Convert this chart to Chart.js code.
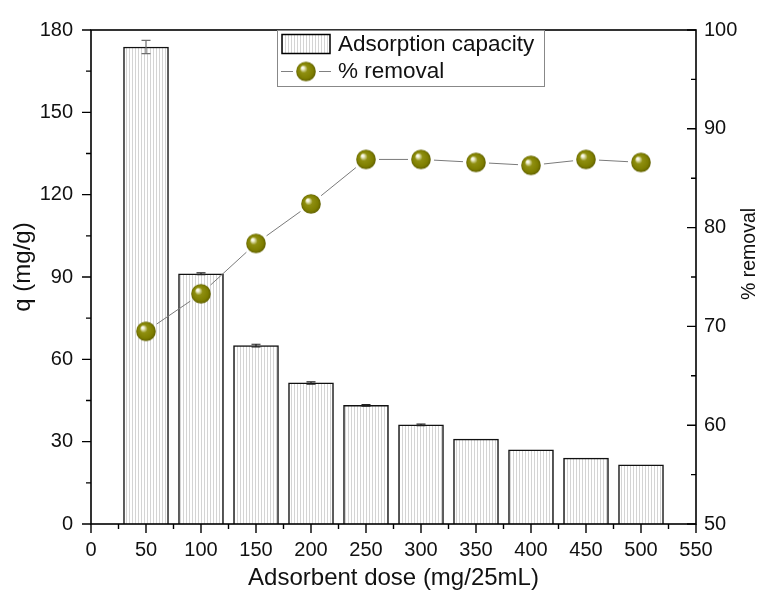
<!DOCTYPE html>
<html><head><meta charset="utf-8">
<script src="https://cdn.jsdelivr.net/npm/chart.js@4.4.1/dist/chart.umd.min.js"></script>
<style>html,body{margin:0;padding:0;background:#fff;overflow:hidden}</style>
</head><body>
<canvas id="c" width="773" height="595"></canvas>
<script>
const doses = [50, 100, 150, 200, 250, 300, 350, 400, 450, 500];
const qValues = [173.8, 91.2, 65.0, 51.4, 43.2, 36.1, 30.9, 27.0, 24.0, 21.6];
const qErrors = [2.4, 0.3, 0.5, 0.4, 0.3, 0.3, 0, 0, 0, 0];
const removal = [69.5, 73.3, 78.4, 82.4, 86.9, 86.9, 86.6, 86.3, 86.9, 86.6];
const xTicks = [0, 50, 100, 150, 200, 250, 300, 350, 400, 450, 500, 550];
const qTicks = [0, 30, 60, 90, 120, 150, 180];
const removalTicks = [50, 60, 70, 80, 90, 100];

const FONT = '"Liberation Sans", Arial, sans-serif';

function makeHatch() {
  const c = document.createElement('canvas');
  c.width = 3; c.height = 8;
  const g = c.getContext('2d');
  g.fillStyle = '#ffffff'; g.fillRect(0, 0, 3, 8);
  g.fillStyle = '#d4d4d4'; g.fillRect(0, 0, 1, 8);
  return g.createPattern(c, 'repeat');
}
function makeSphere(r) {
  const s = Math.ceil(r * 2 + 2);
  const c = document.createElement('canvas');
  c.width = s; c.height = s;
  const g = c.getContext('2d');
  const cx = s / 2, cy = s / 2;
  const grd = g.createRadialGradient(cx - r * 0.38, cy - r * 0.42, 0, cx, cy, r);
  grd.addColorStop(0, '#ffffff');
  grd.addColorStop(0.14, '#f2f2d6');
  grd.addColorStop(0.4, '#8f8f10');
  grd.addColorStop(0.8, '#7e7e00');
  grd.addColorStop(1, '#606000');
  g.fillStyle = grd;
  g.beginPath(); g.arc(cx, cy, r, 0, Math.PI * 2); g.fill();
  return c;
}
const hatch = makeHatch();
const sphere = makeSphere(9.8);

function setTicks(arr) {
  return function (scale) { scale.ticks = arr.map(v => ({ value: v })); };
}

function vText(ctx, text, cx, cy, size) {
  ctx.save();
  ctx.translate(cx, cy);
  ctx.rotate(-Math.PI / 2);
  ctx.fillStyle = '#111';
  ctx.font = size + 'px ' + FONT;
  ctx.textAlign = 'center';
  ctx.textBaseline = 'middle';
  ctx.fillText(text, 0, 0);
  ctx.restore();
}

const decor = {
  id: 'decor',
  beforeDatasetDraw(chart, args) {
    if (args.index !== 1) return;
    const pts = args.meta.data;
    const ctx = chart.ctx;
    ctx.save();
    ctx.strokeStyle = '#7a7a7a';
    ctx.lineWidth = 1;
    ctx.beginPath();
    const gap = 13;
    for (let i = 0; i < pts.length - 1; i++) {
      const a = pts[i], b = pts[i + 1];
      const dx = b.x - a.x, dy = b.y - a.y;
      const len = Math.hypot(dx, dy);
      if (len <= gap * 2) continue;
      const ux = dx / len, uy = dy / len;
      ctx.moveTo(a.x + ux * gap, a.y + uy * gap);
      ctx.lineTo(b.x - ux * gap, b.y - uy * gap);
    }
    ctx.stroke();
    ctx.restore();
  },
  afterDatasetsDraw(chart) {
    const ctx = chart.ctx;
    const x = chart.scales.x, y = chart.scales.y;
    ctx.save();
    doses.forEach((d, i) => {
      const e = qErrors[i];
      if (!e) return;
      const px = x.getPixelForValue(d);
      const top = y.getPixelForValue(qValues[i] + e);
      const bot = y.getPixelForValue(qValues[i] - e);
      ctx.strokeStyle = i === 0 ? '#6e6e6e' : '#222';
      ctx.lineWidth = 1.2;
      ctx.beginPath();
      ctx.moveTo(px, top); ctx.lineTo(px, bot);
      ctx.moveTo(px - 4.5, top); ctx.lineTo(px + 4.5, top);
      ctx.moveTo(px - 4.5, bot); ctx.lineTo(px + 4.5, bot);
      ctx.stroke();
    });
    ctx.restore();
  },
  afterDraw(chart) {
    const ctx = chart.ctx;
    const a = chart.chartArea;
    const x = chart.scales.x, y = chart.scales.y, y1 = chart.scales.y1;
    ctx.save();
    ctx.strokeStyle = '#000';
    ctx.lineWidth = 1.6;
    ctx.strokeRect(a.left, a.top, a.right - a.left, a.bottom - a.top);
    ctx.lineWidth = 1.4;
    ctx.beginPath();
    const mids = arr => arr.slice(0, -1).map((v, i) => (v + arr[i + 1]) / 2);
    const MJ = 9, MN = 5;
    xTicks.forEach(v => { const p = x.getPixelForValue(v); ctx.moveTo(p, a.bottom); ctx.lineTo(p, a.bottom + MJ); });
    mids(xTicks).forEach(v => { const p = x.getPixelForValue(v); ctx.moveTo(p, a.bottom); ctx.lineTo(p, a.bottom + MN); });
    qTicks.forEach(v => { const p = y.getPixelForValue(v); ctx.moveTo(a.left, p); ctx.lineTo(a.left - MJ, p); });
    mids(qTicks).forEach(v => { const p = y.getPixelForValue(v); ctx.moveTo(a.left, p); ctx.lineTo(a.left - MN, p); });
    removalTicks.forEach(v => { const p = y1.getPixelForValue(v); ctx.moveTo(a.right, p); ctx.lineTo(a.right - MJ, p); });
    mids(removalTicks).forEach(v => { const p = y1.getPixelForValue(v); ctx.moveTo(a.right, p); ctx.lineTo(a.right - MN, p); });
    ctx.stroke();

    vText(ctx, 'q (mg/g)', 23, 267, 24);
    vText(ctx, '% removal', 750, 254, 19.5);

    // legend
    const L = 277.5, T = 30.5, W = 267, H = 56;
    ctx.lineWidth = 1;
    ctx.strokeStyle = '#888';
    ctx.strokeRect(L, T, W, H);
    ctx.fillStyle = hatch;
    ctx.fillRect(282, 34.5, 48, 19);
    ctx.strokeStyle = '#000';
    ctx.lineWidth = 1.5;
    ctx.strokeRect(282, 34.5, 48, 19);
    ctx.strokeStyle = '#808080';
    ctx.lineWidth = 1;
    ctx.beginPath();
    ctx.moveTo(281, 71.5); ctx.lineTo(293, 71.5);
    ctx.moveTo(319, 71.5); ctx.lineTo(331, 71.5);
    ctx.stroke();
    ctx.drawImage(sphere, 306 - sphere.width / 2, 71.5 - sphere.height / 2);
    ctx.fillStyle = '#111';
    ctx.font = '22.5px ' + FONT;
    ctx.textBaseline = 'middle';
    ctx.textAlign = 'left';
    ctx.fillText('Adsorption capacity', 338, 45);
    ctx.fillText('% removal', 338, 72);
    ctx.restore();
  }
};

const tickFont = { family: FONT, size: 20 };
const titleFont = { family: FONT, size: 24 };

new Chart(document.getElementById('c'), {
  data: {
    datasets: [
      {
        type: 'bar',
        label: 'Adsorption capacity',
        data: doses.map((d, i) => ({ x: d, y: qValues[i] })),
        yAxisID: 'y',
        backgroundColor: hatch,
        borderColor: '#111',
        borderWidth: 1.5,
        barThickness: 45,
        order: 2
      },
      {
        type: 'line',
        label: '% removal',
        data: doses.map((d, i) => ({ x: d, y: removal[i] })),
        yAxisID: 'y1',
        showLine: false,
        borderColor: '#7a7a7a',
        borderWidth: 1,
        pointStyle: sphere,
        pointRadius: 10,
        order: 1
      }
    ]
  },
  options: {
    responsive: false,
    animation: false,
    layout: { padding: { top: 20, left: 0, right: 0, bottom: 0 } },
    plugins: { legend: { display: false }, tooltip: { enabled: false } },
    scales: {
      x: {
        type: 'linear', position: 'bottom', min: 0, max: 550, offset: false,
        afterBuildTicks: setTicks(xTicks),
        afterFit: s => { s.height = 71; },
        grid: { display: false, drawTicks: false, offset: false },
        border: { display: false },
        ticks: { font: tickFont, color: '#111', padding: 14, maxRotation: 0, autoSkip: false },
        title: { display: true, text: 'Adsorbent dose (mg/25mL)', font: titleFont, color: '#111', padding: { top: 0, bottom: 2 } }
      },
      y: {
        type: 'linear', position: 'left', min: 0, max: 180,
        afterBuildTicks: setTicks(qTicks),
        afterFit: s => { s.width = 91; },
        grid: { display: false, drawTicks: false },
        border: { display: false },
        ticks: { font: tickFont, color: '#111', padding: 18 },
        title: { display: false }
      },
      y1: {
        type: 'linear', position: 'right', min: 50, max: 100,
        afterBuildTicks: setTicks(removalTicks),
        afterFit: s => { s.width = 77; },
        grid: { display: false, drawTicks: false },
        border: { display: false },
        ticks: { font: tickFont, color: '#111', padding: 8 },
        title: { display: false }
      }
    }
  },
  plugins: [decor]
});
</script>
</body></html>
